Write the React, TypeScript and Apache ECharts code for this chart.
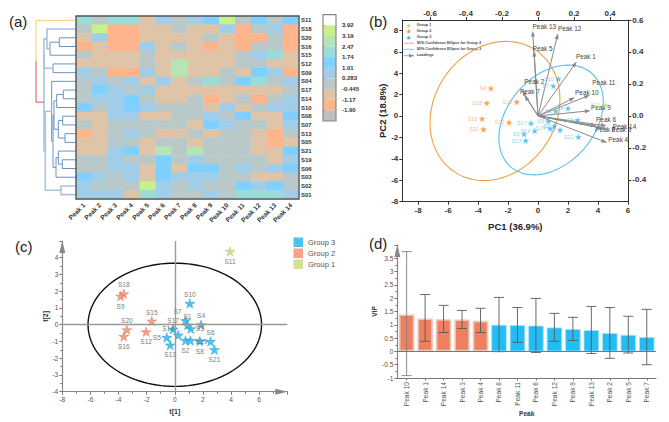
import React, { useEffect, useRef } from "react";
import * as echarts from "echarts";

// panel (a) heat map
const samples = ["S11", "S18", "S20", "S16", "S15", "S12", "S09", "S04", "S17", "S14", "S10", "S08", "S07", "S13", "S05", "S21", "S19", "S06", "S03", "S02", "S01"];
const peaks = ["Peak 1", "Peak 2", "Peak 3", "Peak 4", "Peak 5", "Peak 6", "Peak 7", "Peak 8", "Peak 9", "Peak 10", "Peak 11", "Peak 12", "Peak 13", "Peak 14"];
// one level per colour step: O orange .. Y yellow green
const O = -1.5, T = -0.8, G = -0.1, B = 0.65, K = 1.4, A = 2.1, P = 2.8, Y = 3.5;
const heatRows = [
  [A, G, A, A, T, B, G, B, K, Y, G, K, G, K],
  [G, Y, O, O, T, T, G, T, T, B, O, G, B, O],
  [T, B, O, O, T, T, T, T, G, T, O, O, G, O],
  [O, T, O, O, B, T, G, T, O, T, O, G, G, O],
  [G, T, T, T, G, T, T, T, T, T, G, B, A, T],
  [T, T, T, T, G, T, P, T, T, T, G, G, T, T],
  [B, G, O, O, B, T, P, T, T, G, T, K, B, O],
  [G, B, G, B, T, B, T, G, A, G, K, A, G, B],
  [G, K, B, G, B, T, T, T, T, T, T, T, T, G],
  [G, B, B, K, G, T, T, G, O, T, G, O, G, B],
  [K, G, B, K, B, G, G, G, T, B, T, G, B, B],
  [T, T, B, B, T, T, G, G, B, G, K, T, T, K],
  [G, T, G, G, G, G, G, T, K, B, G, G, T, B],
  [O, T, G, B, G, T, T, G, T, G, G, T, O, G],
  [T, T, G, G, T, G, G, T, G, G, G, T, O, T],
  [T, T, B, K, T, P, G, P, G, G, G, T, T, K],
  [G, G, B, G, G, K, G, B, G, G, G, G, T, B],
  [G, G, B, B, T, K, T, K, K, G, B, G, B, K],
  [K, B, G, B, T, K, B, B, B, G, G, T, T, G],
  [B, G, G, G, Y, B, G, B, G, G, K, B, K, G],
  [B, B, B, T, A, B, G, G, B, G, A, A, A, B],
];
const scaleTicks = [3.92, 3.19, 2.47, 1.74, 1.01, 0.283, -0.445, -1.17, -1.9];
const scaleEdges = [4.65, 3.92, 3.19, 2.47, 1.74, 1.01, 0.283, -0.445, -1.17, -1.9, -2.63];
const scaleColors = ["#ffffff", "#c8f08c", "#b5e5b5", "#9adcd8", "#80d0ff", "#a2cde8", "#b9c9c9", "#e0c4a8", "#ffb48c", "#bcc0c0"];

// dendrogram: [left, right, distance]; below 100 is a sample row, above is 100 + merge index
const dendroMerges = [
  [2, 3, 16.7], [100, 4, 26], [1, 101, 29], [5, 6, 23], [102, 103, 32],
  [8, 9, 12.7], [105, 10, 19.3], [11, 12, 13.3], [13, 14, 11], [107, 108, 17.7],
  [106, 109, 22], [16, 17, 13.7], [15, 111, 17.7], [112, 18, 20], [110, 113, 23],
  [7, 114, 24.3], [19, 20, 15], [115, 116, 30.7], [104, 117, 32], [0, 118, 40],
];
const paleMerges = [2, 4, 16, 17, 18];

// panel (b) PCA biplot
const pcaGroup1 = [{ name: "S11", value: [4.47, 1.0] }];
const pcaGroup2 = [
  { name: "S9", value: [-3.15, 2.6] },
  { name: "S18", value: [-3.42, 1.21] },
  { name: "S15", value: [-1.42, 1.3] },
  { name: "S16", value: [-3.73, -0.25] },
  { name: "S20", value: [-3.64, -1.25] },
  { name: "S12", value: [-1.93, -0.6] },
];
const pcaGroup3 = [
  { name: "S10", value: [1.36, 3.46] },
  { name: "S7", value: [1.02, 2.8] },
  { name: "S1", value: [1.18, 0.47] },
  { name: "S4", value: [2.0, 0.72] },
  { name: "S6", value: [2.64, -0.37] },
  { name: "S21", value: [2.69, -1.96] },
  { name: "S8", value: [1.47, -1.31] },
  { name: "S2", value: [1.09, -0.93] },
  { name: "S19", value: [0.8, -1.15] },
  { name: "S3", value: [0.69, -0.5] },
  { name: "S17", value: [-0.47, -0.68] },
  { name: "S14", value: [-0.22, -1.4] },
  { name: "S5", value: [-0.93, -1.71] },
  { name: "S13", value: [-0.82, -2.3] },
];
// centre x, centre y, half width, half height, correlation
const ellipseGroup2 = [-2.87, 0.47, 4.33, 6.5, 0.17];
const ellipseGroup3 = [0.87, -0.37, 3.48, 5.13, 0.33];
const loadingNames = ["Peak 13", "Peak 12", "Peak 5", "Peak 1", "Peak 2", "Peak 7", "Peak 11", "Peak 10", "Peak 9", "Peak 6", "Peak 8", "Peak 3", "Peak 14", "Peak 4"];
const loadingX = [-0.03, 0.111, -0.022, 0.215, -0.076, -0.089, 0.289, 0.206, 0.293, 0.326, 0.363, 0.39, 0.382, 0.385];
const loadingY = [0.533, 0.517, 0.408, 0.34, 0.131, 0.1625, 0.131, 0.117, 0.033, -0.0625, -0.077, -0.083, -0.0625, -0.167];
const loadingLabelDx = [0, 0, -1.3, -0.7, 0, -2, 2.3, 0, 0.3, -0.6, -8, 3.3, 6, 1];
const loadingLabelDy = [-4, -4.3, -2, -5, -13.7, 1.7, -12.3, -4.6, -3, -6.7, 1, 0.7, 0.7, -3.3];

// panel (c) score plot
const scoreGroup1 = [{ name: "S11", value: [3.93, 4.38] }];
const scoreGroup2 = [
  { name: "S18", value: [-3.63, 1.85] },
  { name: "S9", value: [-3.86, 1.71] },
  { name: "S15", value: [-1.64, 0.22] },
  { name: "S20", value: [-3.41, -0.3] },
  { name: "S16", value: [-3.63, -0.7] },
  { name: "S12", value: [-2.04, -0.42] },
];
const scoreGroup3 = [
  { name: "S10", value: [1.07, 1.27] },
  { name: "S7", value: [0.76, 0.24] },
  { name: "S1", value: [0.9, -0.02] },
  { name: "S4", value: [1.87, 0] },
  { name: "S3", value: [1.14, -0.24] },
  { name: "S17", value: [-0.12, -0.26] },
  { name: "S14", value: [0.24, -0.62] },
  { name: "S5", value: [-0.57, -0.76] },
  { name: "S13", value: [-0.33, -1.21] },
  { name: "S2", value: [0.76, -0.94] },
  { name: "S19", value: [1.11, -0.94] },
  { name: "S8", value: [1.78, -0.98] },
  { name: "S6", value: [2.54, -1.0] },
  { name: "S21", value: [2.82, -1.49] },
];
const scoreEllipse = [0, 0, 6.17, 3.68, 0];
const scoreLabelOffset: Record<string, number[]> = {
  S11: [0, 10], S18: [0, -9], S9: [0, 10], S15: [0, -9], S20: [0, -9], S16: [0, 10], S12: [0, 10],
  S10: [0, -9], S7: [-8, -9], S1: [0, -9], S4: [0, -9], S3: [9, 0], S17: [0, -9], S14: [-10, -7],
  S5: [-10, 0], S13: [0, 10], S2: [0, 10], S19: [11, 1], S8: [0, 10], S6: [0, -9], S21: [0, 10],
};

// panel (d) VIP bars
const vipPeaks = ["Peak 10", "Peak 1", "Peak 14", "Peak 3", "Peak 4", "Peak 8", "Peak 11", "Peak 6", "Peak 12", "Peak 9", "Peak 13", "Peak 2", "Peak 5", "Peak 7"];
const vipValues = [1.39, 1.24, 1.21, 1.2, 1.15, 1.0, 0.99, 0.97, 0.9, 0.84, 0.8, 0.69, 0.62, 0.54];
const vipHigh = [3.75, 2.14, 1.73, 1.54, 1.62, 2.03, 1.65, 1.99, 1.43, 1.28, 1.69, 1.65, 1.32, 1.58];
const vipLow = [-0.91, 0.38, 0.71, 0.86, 0.71, -0.01, 0.34, -0.04, 0.38, 0.41, -0.08, -0.26, -0.06, -0.5];
const vipOrangeCount = 5;

const FONT = "Liberation Sans";
const STAR = "M50 0L61 35H98L68 57L79 91L50 70L21 91L32 57L2 35H39Z";
const STAR_SYMBOL = "path://" + STAR;
echarts.graphic.registerShape("legendStar", echarts.graphic.extendPath(STAR, {}));

const renderDendro = (params: any, api: any) => {
  const ys: number[] = [];
  const hs: number[] = [];
  dendroMerges.forEach((m, i) => {
    const y0 = m[0] >= 100 ? ys[m[0] - 100] : m[0];
    const y1 = m[1] >= 100 ? ys[m[1] - 100] : m[1];
    ys[i] = (y0 + y1) / 2;
    hs[i] = m[2];
  });
  const i = params.dataIndex;
  const m = dendroMerges[i];
  const childY = (c: number) => (c >= 100 ? ys[c - 100] : c);
  const childH = (c: number) => (c >= 100 ? hs[c - 100] : 0);
  const pale = paleMerges.includes(i);
  const root = i === dendroMerges.length - 1;
  const upper = root ? "#f9cf62" : pale ? "#a9c4de" : "#6a93c0";
  const lower = root ? "#e8505a" : upper;
  const width = pale ? 1.6 : 1;
  const line = (pts: number[][], stroke: string) => ({
    type: "polyline",
    shape: { points: pts.map((p) => api.coord(p)) },
    style: { stroke, lineWidth: width, fill: "none" },
  });
  return {
    type: "group",
    children: [
      line([[childH(m[0]), childY(m[0])], [m[2], childY(m[0])], [m[2], ys[i]]], upper),
      line([[childH(m[1]), childY(m[1])], [m[2], childY(m[1])], [m[2], ys[i]]], lower),
    ],
  };
};

const renderScale = (params: any, api: any) => {
  const a = api.coord([0, api.value(0)]);
  const b = api.coord([1, api.value(1)]);
  return {
    type: "rect",
    shape: { x: a[0], y: a[1], width: b[0] - a[0], height: b[1] - a[1] },
    style: { fill: scaleColors[params.dataIndex], stroke: "none" },
  };
};

const renderEllipse = (stroke: string, lineWidth: number) => (_p: any, api: any) => {
  const [cx, cy, wx, wy, rho] = [0, 1, 2, 3, 4].map((d) => api.value(d));
  const pts = [];
  for (let i = 0; i <= 120; i++) {
    const t = (i / 120) * Math.PI * 2;
    pts.push(api.coord([cx + wx * Math.cos(t), cy + wy * (rho * Math.cos(t) + Math.sqrt(1 - rho * rho) * Math.sin(t))]));
  }
  return { type: "polyline", shape: { points: pts }, style: { stroke, lineWidth, fill: "none" } };
};

const renderLoading = (params: any, api: any) => {
  const i = params.dataIndex;
  const o = api.coord([0, 0]);
  const tip = api.coord([api.value(0), api.value(1)]);
  const a = Math.atan2(tip[1] - o[1], tip[0] - o[0]);
  const back = [tip[0] - 6 * Math.cos(a), tip[1] - 6 * Math.sin(a)];
  const nx = -Math.sin(a) * 2;
  const ny = Math.cos(a) * 2;
  return {
    type: "group",
    children: [
      { type: "line", shape: { x1: o[0], y1: o[1], x2: back[0], y2: back[1] }, style: { stroke: "#8a8a8a", lineWidth: 1 } },
      { type: "polygon", shape: { points: [tip, [back[0] + nx, back[1] + ny], [back[0] - nx, back[1] - ny]] }, style: { fill: "#8a8a8a" } },
      {
        type: "text",
        style: {
          text: loadingNames[i],
          x: tip[0] + loadingLabelDx[i],
          y: tip[1] + loadingLabelDy[i],
          fill: "#444",
          fontSize: 6.4,
          fontFamily: FONT,
          align: "left",
          verticalAlign: "middle",
        },
      },
    ],
  };
};

const renderErrorBar = (_p: any, api: any) => {
  const i = api.value(0);
  const hi = api.coord([i, api.value(1)]);
  const lo = api.coord([i, api.value(2)]);
  const stroke = i === 0 ? "#808080" : "#5a5a5a";
  const seg = (x1: number, y1: number, x2: number, y2: number) => ({
    type: "line",
    shape: { x1, y1, x2, y2 },
    style: { stroke, lineWidth: 0.9 },
  });
  return {
    type: "group",
    children: [
      seg(hi[0], hi[1], lo[0], lo[1]),
      seg(hi[0] - 5, hi[1], hi[0] + 5, hi[1]),
      seg(lo[0] - 5, lo[1], lo[0] + 5, lo[1]),
    ],
  };
};

const hiddenAxis = { show: false, splitLine: { show: false } };
const axisLine = (color: string, width = 1) => ({ show: true, onZero: false, lineStyle: { color, width } });
const arrowLine = { show: true, onZero: false, symbol: ["none", "triangle"], symbolSize: [6, 12], symbolOffset: [0, -6], lineStyle: { color: "#888", width: 1.2 } };

const pcaStars = (name: string, data: any[], color: string, labelColor: string) => ({
  type: "scatter",
  name,
  xAxisIndex: 3,
  yAxisIndex: 3,
  data,
  symbol: STAR_SYMBOL,
  symbolKeepAspect: true,
  symbolSize: 7,
  itemStyle: { color },
  label: { show: true, position: "left", distance: 1, formatter: "{b}", color: labelColor, fontSize: 5.5, fontFamily: FONT },
  z: 4,
});

const scoreStars = (name: string, data: any[], color: string, border: string) => ({
  type: "scatter",
  name,
  xAxisIndex: 5,
  yAxisIndex: 5,
  data: data.map((d) => ({
    ...d,
    label: { offset: scoreLabelOffset[d.name] },
  })),
  symbol: STAR_SYMBOL,
  symbolKeepAspect: true,
  symbolSize: 10,
  itemStyle: { color, borderColor: border, borderWidth: 0.5 },
  label: { show: true, position: "inside", formatter: "{b}", color: "#555", fontSize: 6.6, fontFamily: FONT },
  z: 4,
});

const legendRow = (y: number, text: string) => ({
  type: "text",
  left: 416.7,
  top: y - 2.5,
  style: { text, fontSize: 3.8, fontWeight: "bold", fill: "#444", fontFamily: FONT },
});
const legendStar = (y: number, fill: string) => ({
  type: "legendStar",
  x: 406,
  y: y - 2.6,
  scaleX: 0.055,
  scaleY: 0.055,
  style: { fill },
});
const legendLine = (y: number, stroke: string) => ({
  type: "line",
  shape: { x1: 404, y1: y, x2: 414, y2: y },
  style: { stroke, lineWidth: 0.8 },
});

const App = () => {
  const chart = useRef<HTMLDivElement>(null);
  useEffect(() => {
    if (!chart.current) return;
    const myChart = echarts.init(chart.current, undefined, { renderer: "svg" });
    const option: any = {
      animation: false,
      backgroundColor: "#fff",
      textStyle: { fontFamily: FONT },
      title: [
        { text: "(a)", left: 9, top: 14 },
        { text: "(b)", left: 369, top: 14 },
        { text: "(c)", left: 15, top: 239 },
        { text: "(d)", left: 369, top: 236 },
      ].map((t) => ({ ...t, padding: 0, textStyle: { fontSize: 15, fontWeight: "normal", color: "#222", fontFamily: FONT } })),
      grid: [
        { left: 76, top: 16, width: 223, height: 183, show: true, z: 5, borderColor: "#555", borderWidth: 1.4, backgroundColor: "transparent" },
        { left: 30, top: 16, width: 46, height: 183 },
        { left: 323, top: 14.7, width: 13, height: 106.3, show: true, z: 5, borderColor: "#888", borderWidth: 1.2, backgroundColor: "transparent" },
        { left: 402.3, top: 20, width: 226, height: 181.7 },
        { left: 62.3, top: 241, width: 225, height: 150.7 },
        { left: 397.4, top: 245, width: 258.6, height: 133 },
      ],
      xAxis: [
        {
          gridIndex: 0,
          type: "category",
          data: peaks,
          axisLine: { show: false },
          axisTick: { show: false },
          axisLabel: { interval: 0, rotate: 45, margin: 5, fontSize: 6.5, fontWeight: "bold", color: "#333" },
        },
        { gridIndex: 1, type: "value", min: 0, max: 46, inverse: true, ...hiddenAxis },
        { gridIndex: 2, type: "value", min: 0, max: 1, ...hiddenAxis },
        {
          gridIndex: 3,
          type: "value",
          position: "bottom",
          min: -9.05,
          max: 6.02,
          name: "PC1 (36.9%)",
          nameLocation: "middle",
          nameGap: 20,
          nameTextStyle: { fontSize: 9.5, fontWeight: "bold", color: "#222" },
          axisLine: axisLine("#333"),
          axisTick: { show: true, length: 3, lineStyle: { color: "#333" }, customValues: [-8, -6, -4, -2, 0, 2, 4, 6] },
          axisLabel: { margin: 5, fontSize: 8, fontWeight: "bold", color: "#333", customValues: [-8, -6, -4, -2, 0, 2, 4, 6] },
          splitLine: { show: false },
        },
        {
          gridIndex: 3,
          type: "value",
          position: "top",
          min: -0.754,
          max: 0.5017,
          axisLine: axisLine("#333"),
          axisTick: { show: true, length: 3, lineStyle: { color: "#333" }, customValues: [-0.6, -0.4, -0.2, 0, 0.2, 0.4] },
          axisLabel: { margin: 3, fontSize: 8, fontWeight: "bold", color: "#333", customValues: [-0.6, -0.4, -0.2, 0, 0.2, 0.4] },
          splitLine: { show: false },
        },
        {
          gridIndex: 4,
          type: "value",
          min: -8,
          max: 8,
          interval: 2,
          name: "t[1]",
          nameLocation: "middle",
          nameGap: 16,
          nameTextStyle: { fontSize: 7, fontWeight: "bold", color: "#333" },
          axisLine: arrowLine,
          axisTick: { show: true, length: 3, lineStyle: { color: "#777" } },
          minorTick: { show: true, splitNumber: 2, length: 2, lineStyle: { color: "#777" } },
          axisLabel: { margin: 4, fontSize: 6.6, color: "#555", formatter: (v: number) => (v > 6 ? "" : String(v)) },
          splitLine: { show: false },
        },
        {
          gridIndex: 5,
          type: "category",
          data: vipPeaks,
          name: "Peak",
          nameLocation: "middle",
          nameGap: 29,
          nameTextStyle: { fontSize: 6.5, fontWeight: "bold", color: "#333" },
          axisLine: { show: true, onZero: false, lineStyle: { color: "#777", width: 1.2 } },
          axisTick: { show: true, alignWithLabel: true, length: 2.5, lineStyle: { color: "#777" } },
          axisLabel: { interval: 0, rotate: 90, margin: 4, fontSize: 6.6, color: "#555" },
        },
      ],
      yAxis: [
        {
          gridIndex: 0,
          type: "category",
          data: samples,
          inverse: true,
          position: "right",
          axisLine: { show: false },
          axisTick: { show: false },
          axisLabel: { interval: 0, margin: 2, fontSize: 6, fontWeight: "bold", color: "#333" },
        },
        { gridIndex: 1, type: "value", min: -0.5, max: 20.5, inverse: true, ...hiddenAxis },
        {
          gridIndex: 2,
          type: "value",
          position: "right",
          min: -2.63,
          max: 4.65,
          axisLine: { show: false },
          axisTick: { show: true, length: 3, lineStyle: { color: "#888" }, customValues: scaleTicks },
          axisLabel: {
            margin: 6,
            fontSize: 6,
            fontWeight: "bold",
            color: "#333",
            customValues: scaleTicks,
            formatter: (v: number) => (v === -1.9 ? "-1.90" : String(v)),
          },
          splitLine: { show: false },
        },
        {
          gridIndex: 3,
          type: "value",
          position: "left",
          min: -8.01,
          max: 8.97,
          name: "PC2 (18.8%)",
          nameLocation: "middle",
          nameGap: 15,
          nameTextStyle: { fontSize: 9.5, fontWeight: "bold", color: "#222" },
          axisLine: axisLine("#333"),
          axisTick: { show: true, length: 3, lineStyle: { color: "#333" }, customValues: [-8, -6, -4, -2, 0, 2, 4, 6, 8] },
          axisLabel: { margin: 4, fontSize: 8, fontWeight: "bold", color: "#333", customValues: [-8, -6, -4, -2, 0, 2, 4, 6, 8] },
          splitLine: { show: false },
        },
        {
          gridIndex: 3,
          type: "value",
          position: "right",
          min: -0.536,
          max: 0.6,
          axisLine: axisLine("#333"),
          axisTick: { show: true, length: 3, lineStyle: { color: "#333" }, customValues: [-0.4, -0.2, 0, 0.2, 0.4, 0.6] },
          axisLabel: { margin: 4, fontSize: 8, fontWeight: "bold", color: "#333", customValues: [-0.4, -0.2, 0, 0.2, 0.4, 0.6], formatter: (v: number) => (v === 0 ? "0.0" : String(v)) },
          splitLine: { show: false },
        },
        {
          gridIndex: 4,
          type: "value",
          min: -4,
          max: 5,
          interval: 1,
          name: "t[2]",
          nameLocation: "middle",
          nameGap: 12,
          nameTextStyle: { fontSize: 7, fontWeight: "bold", color: "#333" },
          axisLine: arrowLine,
          axisTick: { show: true, length: 3, lineStyle: { color: "#777" } },
          minorTick: { show: true, splitNumber: 2, length: 2, lineStyle: { color: "#777" } },
          axisLabel: { margin: 4, fontSize: 6.6, color: "#555", formatter: (v: number) => (v > 4 ? "" : String(v)) },
          splitLine: { show: false },
        },
        {
          gridIndex: 5,
          type: "value",
          min: -1,
          max: 4,
          interval: 0.5,
          name: "VIP",
          nameLocation: "middle",
          nameGap: 17,
          nameTextStyle: { fontSize: 6.5, fontWeight: "bold", color: "#333" },
          axisLine: arrowLine,
          axisTick: { show: true, length: 3, lineStyle: { color: "#777" } },
          minorTick: { show: true, splitNumber: 2, length: 2, lineStyle: { color: "#777" } },
          axisLabel: { margin: 4, fontSize: 6.6, color: "#555", formatter: (v: number) => (v > 3.5 ? "" : String(v)) },
          splitLine: { show: false },
        },
      ],
      visualMap: {
        show: false,
        type: "piecewise",
        seriesIndex: 0,
        dimension: 2,
        pieces: scaleColors.map((color, i) => ({ min: scaleEdges[i + 1], max: scaleEdges[i], color })),
      },
      legend: {
        orient: "vertical",
        left: 293.5,
        top: 237.5,
        padding: 0,
        itemWidth: 9.5,
        itemHeight: 9.5,
        itemGap: 1.5,
        selectedMode: false,
        data: ["Group 3", "Group 2", "Group 1"].map((name) => ({ name, icon: "rect", itemStyle: { borderWidth: 0 } })),
        textStyle: { fontSize: 7.5, color: "#555", fontFamily: FONT },
      },
      series: [
        {
          type: "heatmap",
          xAxisIndex: 0,
          yAxisIndex: 0,
          data: heatRows.flatMap((row, r) => row.map((v, c) => [c, r, v])),
        },
        {
          type: "custom",
          xAxisIndex: 1,
          yAxisIndex: 1,
          renderItem: renderDendro,
          data: dendroMerges.map((m) => m[2]),
          silent: true,
        },
        {
          type: "custom",
          xAxisIndex: 2,
          yAxisIndex: 2,
          renderItem: renderScale,
          data: scaleColors.map((_, i) => [scaleEdges[i], scaleEdges[i + 1]]),
          silent: true,
        },
        { type: "custom", name: "95% Confidence Ellipse for Group 2", xAxisIndex: 3, yAxisIndex: 3, renderItem: renderEllipse("#f0a040", 1.1), data: [ellipseGroup2], z: 2 },
        { type: "custom", name: "95% Confidence Ellipse for Group 3", xAxisIndex: 3, yAxisIndex: 3, renderItem: renderEllipse("#58c0ec", 1.1), data: [ellipseGroup3], z: 2 },
        { type: "custom", name: "Loadings", xAxisIndex: 4, yAxisIndex: 4, renderItem: renderLoading, data: loadingX.map((x, i) => [x, loadingY[i]]), z: 3 },
        pcaStars("PCA Group 1", pcaGroup1, "#b8e068", "#b8e068"),
        pcaStars("PCA Group 2", pcaGroup2, "#ff8c1a", "#f0b060"),
        pcaStars("PCA Group 3", pcaGroup3, "#35b8f0", "#6ec6ee"),
        {
          type: "custom",
          xAxisIndex: 5,
          yAxisIndex: 5,
          renderItem: renderEllipse("#111", 1.4),
          data: [scoreEllipse],
          z: 3,
          markLine: {
            silent: true,
            symbol: "none",
            label: { show: false },
            lineStyle: { color: "#999", width: 1.4, type: "solid" },
            data: [{ xAxis: 0 }, { yAxis: 0 }],
          },
        },
        scoreStars("Group 3", scoreGroup3, "#1fb4f0", "#1690c4"),
        scoreStars("Group 2", scoreGroup2, "#f58a68", "#d87050"),
        scoreStars("Group 1", scoreGroup1, "#c8d87a", "#a8b860"),
        {
          type: "bar",
          xAxisIndex: 6,
          yAxisIndex: 6,
          barWidth: 15.5,
          data: vipValues.map((value, i) => ({
            value,
            itemStyle:
              i < vipOrangeCount
                ? { color: "#ee8060", borderColor: "#ecc8b8", borderWidth: 1.6 }
                : { color: "#22bdf5", borderColor: "#aee4f8", borderWidth: 0.8 },
          })),
          markLine: {
            silent: true,
            symbol: "none",
            label: { show: false },
            lineStyle: { color: "#3d87b5", width: 1, type: "solid" },
            data: [{ yAxis: 0 }],
          },
          z: 2,
        },
        {
          type: "custom",
          xAxisIndex: 6,
          yAxisIndex: 6,
          renderItem: renderErrorBar,
          data: vipHigh.map((h, i) => [i, h, vipLow[i]]),
          z: 3,
        },
      ],
      graphic: [
        legendStar(25.7, "#b8e068"),
        legendRow(25.7, "Group 1"),
        legendStar(31.3, "#ff8c1a"),
        legendRow(31.3, "Group 2"),
        legendStar(37.7, "#35b8f0"),
        legendRow(37.7, "Group 3"),
        legendLine(43.3, "#f0a040"),
        legendRow(43.3, "95% Confidence Ellipse for Group 2"),
        legendLine(49.3, "#58c0ec"),
        legendRow(49.3, "95% Confidence Ellipse for Group 3"),
        legendLine(55.7, "#8a8a8a"),
        { type: "polygon", shape: { points: [[414, 55.7], [409, 53.8], [409, 57.6]] }, style: { fill: "#8a8a8a" } },
        legendRow(55.7, "Loadings"),
      ],
    };
    myChart.setOption(option);
    return () => {
      myChart.dispose();
    };
  }, []);
  return <div ref={chart} style={{ position: "absolute", left: 0, top: 0, width: 669, height: 422 }}></div>;
};

export default App;
